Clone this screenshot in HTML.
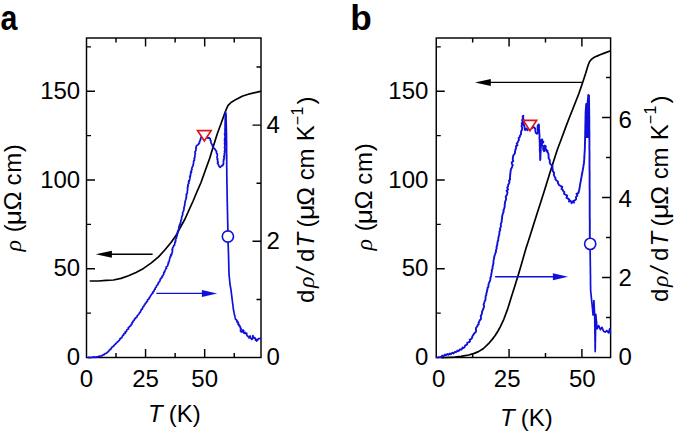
<!DOCTYPE html><html><head><meta charset="utf-8"><style>html,body{margin:0;padding:0;background:#fff;overflow:hidden;}svg{display:block;}text{font-family:"Liberation Sans",sans-serif;fill:#000;}</style></head><body>
<svg width="675" height="432" viewBox="0 0 675 432">
<rect width="675" height="432" fill="#fff"/>
<path d="M116.01,357.5V353.00M116.01,38.0V42.50M145.56,357.5V349.00M145.56,38.0V46.50M175.12,357.5V353.00M175.12,38.0V42.50M204.68,357.5V349.00M204.68,38.0V46.50M234.23,357.5V353.00M234.23,38.0V42.50M86.5,313.12H91.00M86.5,268.75H95.00M86.5,224.38H91.00M86.5,180.00H95.00M86.5,135.62H91.00M86.5,91.25H95.00M86.5,46.88H91.00M261.0,299.40H256.50M261.0,241.30H252.50M261.0,183.20H256.50M261.0,125.10H252.50M261.0,67.00H256.50" stroke="#000" stroke-width="1.45" fill="none"/>
<rect x="86.5" y="38.0" width="174.50" height="319.50" stroke="#000" stroke-width="1.45" fill="none"/>
<path d="M472.66,357.5V353.00M472.66,38.0V42.50M509.07,357.5V349.00M509.07,38.0V46.50M545.49,357.5V353.00M545.49,38.0V42.50M581.90,357.5V349.00M581.90,38.0V46.50M436.25,313.12H440.75M436.25,268.75H444.75M436.25,224.38H440.75M436.25,180.00H444.75M436.25,135.62H440.75M436.25,91.25H444.75M436.25,46.88H440.75M610.6,317.50H606.10M610.6,277.50H602.10M610.6,237.50H606.10M610.6,197.50H602.10M610.6,157.50H606.10M610.6,117.50H602.10M610.6,77.50H606.10" stroke="#000" stroke-width="1.45" fill="none"/>
<rect x="436.25" y="38.0" width="174.35" height="319.50" stroke="#000" stroke-width="1.45" fill="none"/>
<polyline points="90.4,281.0 98.5,281.0 106.0,280.4 113.5,280.0 121.0,278.4 128.5,275.8 136.0,272.4 143.5,268.4 151.0,263.1 158.5,256.9 164.8,250.0 171.0,242.5 176.0,235.6 180.0,228.0 185.0,219.0 188.8,210.5 193.1,201.0 196.0,194.0 201.0,182.5 206.0,168.5 209.8,158.0 212.2,150.0 217.2,134.0 221.0,123.8 224.1,115.0 226.0,110.0 227.9,105.6 231.0,102.5 236.0,99.4 242.2,96.2 249.8,93.8 260.3,91.3" fill="none" stroke="#000" stroke-width="1.7" stroke-linejoin="round" stroke-linecap="round"/>
<polyline points="88.0,357.6 88.6,357.4 89.2,357.6 89.8,357.4 90.4,357.6 91.0,357.5 91.6,357.5 92.2,357.1 92.8,357.0 93.5,357.5 94.1,357.0 94.7,356.9 95.4,357.4 96.0,357.0 96.6,356.9 97.3,357.0 97.9,356.6 98.5,356.6 99.1,356.1 99.8,356.3 100.4,356.4 101.0,356.0 101.6,355.7 102.2,355.6 102.7,355.3 103.1,354.6 103.9,354.8 104.4,354.4 104.8,353.9 105.3,353.5 106.0,353.5 106.6,353.2 106.9,352.6 107.5,352.2 108.0,351.9 108.4,351.3 108.9,351.0 109.1,350.3 109.8,350.0 110.1,349.4 110.8,349.2 111.0,348.5 111.6,348.2 111.7,347.4 112.2,347.0 112.7,346.5 113.5,346.5 113.7,345.7 114.2,345.4 114.5,344.8 115.1,344.4 115.5,343.9 116.0,343.5 116.3,343.0 116.9,342.6 117.3,342.1 117.9,341.8 118.2,341.3 118.7,340.9 119.1,340.4 119.6,340.0 119.8,339.4 119.9,338.6 120.8,338.6 121.0,337.9 121.7,337.7 122.1,337.2 122.2,336.5 122.7,336.1 122.7,335.3 123.5,335.2 123.7,334.5 123.9,333.9 124.2,333.3 125.1,333.3 125.6,332.8 125.3,331.9 126.0,331.6 126.6,331.3 126.6,330.6 126.8,329.9 127.3,329.5 128.0,329.3 128.4,328.9 128.2,327.9 128.9,327.7 128.9,327.0 129.7,326.8 129.8,326.1 130.6,325.9 131.0,325.5 131.0,324.8 131.4,324.2 132.1,324.0 131.9,323.1 132.1,322.5 132.9,322.2 132.8,321.4 133.3,321.0 133.8,320.6 134.3,320.1 134.3,319.4 134.6,318.8 135.6,318.7 135.5,317.9 136.0,317.5 136.7,317.3 137.1,316.7 137.1,315.9 137.5,315.5 138.0,315.0 138.5,314.6 138.8,314.0 139.2,313.5 139.5,313.0 139.8,312.5 140.4,312.1 140.4,311.4 140.7,310.9 141.2,310.5 141.2,309.7 141.6,309.3 142.4,309.1 142.4,308.3 142.8,307.8 142.7,307.0 143.4,306.7 143.8,306.2 144.1,305.8 144.1,305.0 144.8,304.8 145.2,304.3 145.1,303.5 145.8,303.3 146.1,302.7 146.6,302.3 146.6,301.7 147.2,301.4 147.6,300.9 147.4,300.0 147.8,299.5 148.5,299.3 148.8,298.8 149.4,298.5 149.2,297.6 149.7,297.2 150.2,296.8 150.3,296.2 150.6,295.7 150.9,295.2 151.3,294.7 151.8,294.3 151.9,293.7 152.3,293.2 153.0,292.9 152.7,292.0 153.5,291.8 153.8,291.2 154.2,290.8 154.2,290.1 154.5,289.5 155.2,289.2 155.1,288.4 155.4,287.8 155.9,287.4 156.4,287.0 156.3,286.2 156.7,285.7 157.1,285.2 157.8,284.8 157.8,284.1 158.4,283.8 158.2,282.9 158.8,282.5 158.9,281.9 159.5,281.5 160.0,281.1 160.0,280.3 160.1,279.7 160.3,279.1 160.9,278.8 161.0,278.1 161.8,277.8 162.1,277.3 161.9,276.5 162.3,276.0 163.0,275.7 163.1,275.0 163.5,274.5 163.9,274.0 163.7,273.2 163.8,272.6 164.2,272.1 164.9,271.7 164.7,270.9 165.0,270.4 165.3,269.9 165.6,269.3 165.8,268.7 166.5,268.4 166.1,267.5 166.2,266.9 166.9,266.5 167.5,266.1 167.7,265.4 168.0,264.9 167.8,264.1 168.4,263.7 168.6,263.1 168.3,262.3 168.9,261.9 169.2,261.3 169.3,260.6 169.4,260.0 169.6,259.4 169.6,258.8 169.9,258.2 170.0,257.6 170.0,257.0 170.7,256.6 170.6,256.0 171.3,255.5 170.8,254.8 171.7,254.4 171.6,253.8 171.9,253.2 172.2,252.6 172.3,251.9 172.5,251.3 172.3,250.6 172.0,249.9 172.7,249.4 172.4,248.7 172.6,248.1 172.9,247.5 173.3,246.9 173.5,246.3 173.8,245.6 174.5,245.2 174.5,244.4 174.8,243.8 174.8,243.1 174.8,242.4 175.5,242.0 175.3,241.2 175.8,240.7 175.5,240.0 175.6,239.3 176.0,238.8 176.4,238.2 176.0,237.4 176.7,236.9 176.6,236.2 177.1,235.8 177.2,235.2 177.4,234.6 176.8,233.8 177.5,233.4 177.9,232.9 177.4,232.1 177.7,231.6 177.9,231.0 178.3,230.5 178.4,229.9 178.6,229.3 178.8,228.8 179.2,228.2 178.7,227.4 178.9,226.8 179.2,226.2 179.4,225.5 179.5,224.9 180.5,224.5 180.5,223.8 180.1,223.0 180.6,222.5 180.8,221.9 180.8,221.2 180.9,220.6 181.1,220.0 181.5,219.4 181.6,218.8 181.6,218.1 181.6,217.4 181.9,216.8 181.9,216.2 182.4,215.6 182.5,215.0 182.8,214.4 182.7,213.7 182.5,213.0 182.8,212.4 183.1,211.9 183.4,211.3 183.7,210.7 183.5,210.0 184.0,209.4 184.0,208.8 183.9,208.1 184.0,207.5 184.3,206.9 184.4,206.2 184.7,205.7 184.6,205.0 184.9,204.4 184.8,203.7 184.8,203.1 185.2,202.5 185.4,201.9 185.0,201.2 185.4,200.6 185.6,200.0 185.7,199.4 186.2,198.8 186.3,198.2 186.0,197.5 186.5,196.9 186.6,196.3 186.2,195.6 186.5,195.0 186.3,194.3 187.1,193.8 187.0,193.2 187.4,192.6 187.4,191.9 187.2,191.2 187.5,190.6 187.7,190.0 187.6,189.4 187.3,188.7 187.8,188.1 187.4,187.4 187.7,186.8 188.3,186.3 187.8,185.6 187.9,184.9 188.0,184.3 188.5,183.8 189.0,183.2 188.5,182.4 188.5,181.8 189.3,181.3 188.8,180.6 189.6,180.1 189.6,179.4 189.9,178.8 190.1,178.2 189.9,177.5 190.3,176.9 189.7,176.2 190.5,175.7 190.4,175.0 190.6,174.4 190.9,173.8 190.5,173.0 191.2,172.6 191.6,172.0 190.9,171.2 191.3,170.6 191.7,170.0 192.1,169.4 191.7,168.7 191.8,168.1 192.2,167.5 192.2,166.8 192.8,166.3 193.1,165.7 193.0,165.0 193.2,164.3 193.5,163.8 193.5,163.1 193.6,162.5 193.7,161.9 193.5,161.2 194.0,160.6 194.5,160.1 194.2,159.4 194.6,158.8 194.1,158.1 194.7,157.5 194.9,156.9 194.8,156.2 195.0,155.6 194.9,155.0 195.0,154.4 195.2,153.8 195.5,153.2 194.9,152.5 195.0,151.8 195.4,151.2 195.8,150.7 196.0,150.1 195.8,149.4 195.9,148.7 196.3,148.2 195.9,147.4 196.1,146.8 196.2,146.2 196.6,145.6 197.3,145.3 197.8,144.7 198.5,144.4 198.5,143.7 199.2,143.2 199.6,142.7 199.3,141.8 199.8,141.2 200.1,140.7 200.1,140.0 200.7,139.5 200.7,138.8 200.6,138.1 201.0,137.5 201.5,136.9 202.1,136.3 203.0,136.2 203.8,136.6 204.5,137.0 205.2,136.8 206.0,136.9 206.8,137.1 207.3,137.6 207.9,138.1 208.4,137.7 209.1,137.5 209.3,138.3 210.2,138.6 210.4,139.4 210.1,140.1 210.8,140.6 210.8,141.3 211.1,141.9 211.0,142.6 211.1,143.2 211.6,143.8 211.8,144.3 212.2,144.8 212.2,145.4 212.4,146.0 213.0,146.4 213.0,147.1 213.5,147.5 213.6,148.3 214.3,148.5 214.8,148.9 215.2,149.4 215.4,150.0 215.9,150.8 216.6,151.2 216.5,151.9 216.4,152.6 216.5,153.2 217.2,153.7 217.3,154.3 217.3,155.0 217.4,155.6 217.2,156.2 217.1,156.9 217.0,157.5 217.1,158.2 217.7,158.7 217.2,159.4 217.7,160.0 217.7,160.6 217.5,161.3 218.1,161.8 218.2,162.5 217.5,163.2 217.9,163.8 218.4,164.3 218.6,164.9 218.7,165.7 219.1,166.2 219.4,166.8 220.3,166.8 220.4,167.5 220.7,166.8 221.2,166.2 221.6,165.6 222.2,165.6 222.9,165.6 222.8,164.9 223.2,164.4 223.7,163.8 223.3,163.1 223.5,162.5 223.6,161.9 223.3,161.2 223.5,160.6 223.9,160.0 223.5,159.3 224.3,158.8 224.4,158.2 224.1,157.5 223.8,156.8 224.6,156.3 224.1,155.6 224.6,155.0 224.6,154.4 224.2,153.7 224.6,153.1 224.7,152.5 224.9,151.9 224.4,151.2 224.9,150.6 224.8,150.0 225.2,149.4 224.9,148.8 224.8,148.2 224.4,147.6 224.8,147.0 224.7,146.3 225.0,145.7 225.0,145.1 224.9,144.5 224.5,143.9 225.0,143.3 225.0,142.7 224.6,142.1 225.2,141.5 225.0,140.9 224.5,140.2 225.3,139.6 224.6,139.0 224.8,138.4 225.1,137.8 225.0,137.2 225.0,136.6 225.1,136.0 224.9,135.4 224.8,134.8 224.7,134.1 224.6,133.5 225.2,132.9 225.2,132.3 225.0,131.7 225.0,131.1 225.0,130.5 225.0,129.9 225.0,129.3 225.0,128.7 225.1,128.0 225.1,127.4 225.1,126.8 225.1,126.2 225.1,125.6 225.1,125.0 225.1,124.4 225.1,123.8 225.1,123.1 225.2,122.5 225.2,121.9 225.2,121.3 225.2,120.7 225.2,120.0 225.2,119.4 225.2,118.8 225.3,118.2 225.3,117.6 225.3,117.0 225.3,116.3 225.3,115.7 225.3,115.1 225.3,114.5 225.4,113.9 225.4,113.2 225.4,112.6 225.4,112.0 225.6,112.6 225.8,113.2 226.0,113.8 226.0,114.4 226.0,115.0 226.0,115.6 226.1,116.2 226.1,116.8 226.1,117.4 226.1,118.0 226.1,118.6 226.1,119.2 226.1,119.8 226.2,120.4 226.2,121.0 226.2,121.6 226.2,122.2 226.2,122.9 226.2,123.5 226.2,124.1 226.3,124.7 226.3,125.3 226.3,125.9 226.3,126.5 226.3,127.1 226.3,127.7 226.3,128.3 226.4,128.9 226.4,129.5 226.4,130.1 226.4,130.8 226.4,131.4 226.4,132.0 226.4,132.6 226.5,133.2 226.5,133.8 226.5,134.4 226.5,135.0 226.5,135.6 226.5,136.2 226.5,136.8 226.5,137.4 226.5,138.0 226.5,138.6 226.5,139.2 226.5,139.8 226.5,140.5 226.5,141.1 226.6,141.7 226.6,142.3 226.6,142.9 226.6,143.5 226.6,144.1 226.6,144.7 226.6,145.3 226.6,145.9 226.6,146.5 226.6,147.1 226.6,147.7 226.6,148.3 226.6,148.9 226.6,149.5 226.6,150.2 226.6,150.8 226.6,151.4 226.6,152.0 226.6,152.6 226.6,153.2 226.6,153.8 226.6,154.4 226.7,155.0 226.7,155.6 226.7,156.2 226.7,156.8 226.7,157.4 226.7,158.0 226.7,158.6 226.7,159.2 226.7,159.8 226.7,160.5 226.7,161.1 226.7,161.7 226.7,162.3 226.7,162.9 226.7,163.5 226.7,164.1 226.7,164.7 226.7,165.3 226.7,165.9 226.7,166.5 226.7,167.1 226.7,167.7 226.8,168.3 226.8,168.9 226.8,169.5 226.8,170.2 226.8,170.8 226.8,171.4 226.8,172.0 226.8,172.6 226.8,173.2 226.8,173.8 226.8,174.4 226.8,175.0 226.8,175.6 226.8,176.2 226.8,176.8 226.8,177.4 226.9,178.0 226.9,178.6 226.9,179.2 226.9,179.8 226.9,180.4 226.9,181.0 226.9,181.6 226.9,182.2 226.9,182.9 226.9,183.5 227.0,184.1 227.0,184.7 227.0,185.3 227.0,185.9 227.0,186.5 227.0,187.1 227.0,187.7 227.0,188.3 227.0,188.9 227.1,189.5 227.1,190.1 227.1,190.7 227.1,191.3 227.1,191.9 227.1,192.5 227.1,193.1 227.1,193.7 227.1,194.3 227.1,194.9 227.2,195.5 227.2,196.1 227.2,196.8 227.2,197.4 227.2,198.0 227.2,198.6 227.2,199.2 227.2,199.8 227.2,200.4 227.2,201.0 227.3,201.6 227.3,202.2 227.3,202.8 227.3,203.4 227.3,204.0 227.3,204.6 227.3,205.2 227.3,205.8 227.4,206.4 227.4,207.0 227.4,207.7 227.4,208.3 227.4,208.9 227.4,209.5 227.4,210.1 227.5,210.7 227.5,211.3 227.5,211.9 227.5,212.5 227.5,213.1 227.5,213.7 227.5,214.4 227.6,215.0 227.6,215.6 227.6,216.2 227.6,216.8 227.6,217.4 227.6,218.0 227.6,218.6 227.6,219.2 227.7,219.8 227.7,220.5 227.7,221.1 227.7,221.7 227.7,222.3 227.7,222.9 227.7,223.5 227.8,224.1 227.8,224.7 227.8,225.3 227.8,225.9 227.8,226.5 227.8,227.2 227.8,227.8 227.9,228.4 227.9,229.0 227.9,229.6 227.9,230.2" fill="none" stroke="#1010da" stroke-width="1.7" stroke-linejoin="round" stroke-linecap="round"/>
<polyline points="228.1,242.9 228.1,243.5 228.1,244.1 228.2,244.8 228.2,245.4 228.2,246.0 228.2,246.6 228.3,247.2 228.3,247.8 228.3,248.4 228.3,249.1 228.3,249.7 228.4,250.3 228.4,250.9 228.4,251.5 228.4,252.2 228.5,252.8 228.5,253.4 228.5,254.0 228.5,254.6 228.5,255.2 228.5,255.8 228.6,256.4 228.6,257.0 228.6,257.6 228.6,258.2 228.6,258.8 228.6,259.5 228.7,260.1 228.7,260.7 228.7,261.3 228.7,261.9 228.7,262.5 228.7,263.1 228.7,263.7 228.8,264.3 228.8,264.9 228.8,265.5 228.8,266.1 228.8,266.7 228.8,267.3 228.8,267.9 228.9,268.5 228.9,269.2 228.9,269.8 228.9,270.4 228.9,271.0 228.9,271.6 229.0,272.2 229.0,272.8 229.0,273.4 229.0,274.0 229.1,274.6 229.1,275.2 229.2,275.9 229.2,276.5 229.3,277.1 229.4,277.8 229.4,278.4 229.5,279.0 229.6,279.6 229.6,280.2 229.7,280.9 229.8,281.5 229.8,282.1 229.9,282.8 229.9,283.4 230.0,284.0 230.1,284.6 230.2,285.2 230.3,285.8 230.4,286.4 230.5,287.0 230.6,287.6 230.7,288.2 230.8,288.8 230.9,289.4 231.0,290.0 231.1,290.6 231.2,291.2 231.2,291.9 231.3,292.5 231.4,293.1 231.5,293.8 231.5,294.4 231.6,295.0 231.7,295.6 231.8,296.2 231.9,296.9 231.9,297.5 232.0,298.1 232.1,298.8 232.2,299.4 232.2,300.0 232.3,300.6 232.4,301.2 232.5,301.9 232.6,302.5 232.6,303.1 232.7,303.8 232.8,304.4 232.9,305.0 233.0,305.6 233.0,306.2 233.1,306.9 233.2,307.5 233.3,308.1 233.3,308.8 233.4,309.4 233.5,310.0 233.6,310.6 233.8,311.2 233.9,311.9 234.0,312.5 234.2,313.1 234.3,313.8 234.4,314.4 234.6,315.0 234.7,315.6 234.9,316.2 235.0,316.9 235.1,317.5 235.3,318.1 235.4,318.8 235.7,319.4 236.4,319.8 237.0,320.3 236.8,321.2 237.5,321.6 237.2,322.5 238.3,322.4 238.3,323.3 238.1,324.4 239.1,324.4 238.8,325.2 239.0,325.8 240.1,326.1 239.8,326.9 240.4,327.4 240.8,328.0 240.4,328.8 241.3,329.1 241.4,329.8 240.4,330.9 240.8,331.5 241.6,331.9 242.5,331.6 242.9,330.9 242.9,330.0 243.7,330.4 243.7,331.1 243.4,331.9 243.5,332.6 244.1,333.1 245.0,333.4 245.4,332.5 245.2,333.5 246.8,333.4 246.6,334.4 246.9,335.1 247.2,335.8 247.9,336.2 248.3,336.9 249.2,337.2 249.1,338.1 249.5,337.5 249.4,336.4 250.4,336.2 249.9,337.2 250.3,337.7 251.0,338.2 251.7,338.6 251.6,339.4 252.5,339.0 252.2,338.2 252.9,337.7 253.1,337.1 252.7,336.2 252.9,335.6 253.3,336.2 253.3,336.9 253.9,337.4 254.1,338.1 255.0,337.9 255.4,338.8 256.0,339.2 255.5,340.2 257.0,340.3 256.6,341.2 256.4,340.2 257.7,340.1 257.9,339.4 258.3,338.7 259.1,338.8 259.8,338.5 260.4,338.1" fill="none" stroke="#1010da" stroke-width="1.7" stroke-linejoin="round" stroke-linecap="round"/>
<polyline points="441.5,357.6 447.0,357.5 454.8,357.1 461.0,356.3 468.5,355.0 473.5,353.6 478.5,351.6 483.5,348.5 488.5,343.7 492.0,339.6 495.0,335.8 498.0,331.0 500.5,326.3 503.8,319.3 507.5,309.4 511.2,297.6 515.0,285.6 518.1,275.5 521.0,265.7 524.0,255.2 526.0,248.3 528.8,239.8 532.5,228.0 536.2,216.3 540.0,204.5 545.0,188.7 550.0,172.6 554.0,160.0 557.2,150.0 562.0,137.3 566.0,126.4 570.0,116.0 573.5,107.2 578.8,93.8 582.5,83.0 585.6,73.5 588.1,65.2 589.5,61.8 591.5,59.3 593.8,57.6 597.0,56.1 600.0,54.8 605.0,52.9 610.0,51.0" fill="none" stroke="#000" stroke-width="1.7" stroke-linejoin="round" stroke-linecap="round"/>
<polyline points="437.0,357.6 439.0,357.2 441.0,357.0 442.3,355.6 443.5,356.2 445.0,354.6 446.0,355.3 447.5,354.0 448.5,354.8 450.0,353.5 451.0,354.2 452.5,352.7 453.5,353.4 455.0,351.8 456.0,352.2 457.5,350.6 458.5,351.2 460.0,349.2 461.0,349.8 462.0,348.8 462.5,347.5 463.5,348.0 464.7,347.1 465.0,345.6 466.0,345.2 467.2,344.2 467.3,342.6 468.5,342.4 470.0,341.4 469.8,339.6 471.0,339.1 472.0,338.0 472.3,336.5 473.5,334.6 474.8,332.7 476.0,331.7 476.0,330.1 475.9,328.1 477.2,326.5 477.6,325.2 478.7,324.2 478.5,322.7 479.3,321.6 479.7,320.2 480.9,319.2 481.0,317.6 480.7,315.9 481.6,314.5 482.0,313.0 482.1,311.4 482.9,310.0 483.4,308.7 483.8,307.4 484.1,306.0 483.6,304.4 484.2,303.0 484.5,301.6 485.4,300.2 485.5,298.8 485.6,297.3 485.7,295.9 486.4,294.7 486.3,293.3 486.9,292.1 486.9,290.7 487.5,289.5 487.5,287.9 488.5,286.6 488.4,285.0 488.8,283.5 489.4,282.0 490.1,280.6 490.4,279.1 490.4,277.5 491.2,276.1 491.2,274.5 491.5,273.0 491.9,271.5 491.8,270.0 492.6,268.6 492.5,267.0 492.9,265.5 493.3,264.1 493.5,262.5 493.4,261.0 493.8,259.5 494.1,257.8 494.4,256.1 495.0,254.5 495.3,253.2 496.0,252.0 495.9,250.7 496.3,249.4 496.7,248.2 496.5,246.8 497.2,245.6 497.2,244.3 497.5,243.0 497.6,241.5 498.3,240.2 498.3,238.7 498.5,237.3 498.8,235.9 499.3,234.5 499.4,233.0 499.4,231.5 500.3,230.2 499.9,228.7 500.6,227.3 501.0,225.9 500.7,224.4 501.2,223.0 501.7,221.6 501.7,220.1 502.1,218.7 502.0,217.2 502.3,215.8 502.6,214.4 503.1,213.0 503.7,211.7 503.4,210.2 504.1,209.0 504.5,207.6 504.8,206.3 504.6,204.8 505.0,203.5 505.0,202.1 505.5,200.8 506.1,199.4 506.0,198.0 505.7,196.5 506.8,195.2 507.2,193.8 507.5,192.3 506.6,190.7 508.1,189.5 507.2,187.8 508.0,186.5 508.1,185.0 508.8,183.7 509.5,182.3 509.0,180.7 510.1,179.5 509.9,177.9 510.1,176.5 510.1,175.0 510.4,173.5 510.5,172.0 510.7,170.6 511.0,169.1 511.8,167.8 512.2,166.4 512.8,165.1 511.8,163.7 511.8,162.3 513.3,161.1 512.8,159.7 512.8,158.3 513.1,157.0 513.2,155.5 514.2,154.3 515.0,153.0 515.0,151.5 515.4,150.1 515.7,148.8 516.2,147.5 516.0,146.1 517.5,145.2 516.7,143.6 517.7,142.5 518.1,141.2 519.0,140.0 518.6,138.2 519.8,137.0 520.0,135.5 521.0,134.3 521.0,132.7 521.2,131.2 522.1,129.5 522.1,127.5 521.5,126.1 522.1,124.7 521.7,123.3 522.9,122.0 522.1,120.6 522.4,119.2 523.3,117.9 522.6,116.5 523.4,115.8 522.9,117.1 522.8,118.5 523.6,119.7 523.6,121.1 523.3,122.4 523.8,123.7 523.8,125.0 524.5,126.6 524.7,128.3 525.0,130.0 526.3,128.6 527.5,130.2 529.0,128.5 530.5,127.2 532.0,128.2 533.1,126.9 534.4,127.5 535.3,129.0 535.4,130.8 535.6,132.5 536.9,133.8 537.9,132.4 538.0,130.9 537.7,129.4 537.7,127.9 537.6,126.4 538.1,125.0 538.8,124.4 539.0,125.7 539.0,127.0 538.9,128.4 539.0,129.7 539.3,131.0 539.2,132.4 539.3,133.7 539.5,135.0 539.5,136.3 539.5,137.6 539.5,139.0 539.7,140.3 539.6,141.6 539.8,142.9 539.8,144.2 539.7,145.5 539.8,146.8 540.0,148.2 539.7,149.5 539.9,150.8 539.9,152.1 540.2,153.4 540.0,154.7 540.2,156.0 540.1,157.4 540.2,158.7 540.2,160.0 540.4,158.7 540.4,157.3 540.5,156.0 540.4,154.7 540.6,153.3 540.7,152.0 540.8,150.7 540.6,149.3 540.9,148.0 540.9,146.7 540.9,145.3 541.1,144.0 541.2,142.7 541.0,141.3 541.1,140.0 542.2,139.4 542.3,140.8 543.4,142.0 541.9,143.5 541.9,144.9 543.1,146.1 543.2,147.5 543.2,149.5 544.1,151.2 544.8,149.9 545.0,148.5 543.8,146.9 544.8,145.6 545.8,146.2 545.4,148.0 546.1,149.6 546.6,151.2 547.5,150.6 547.4,152.2 548.4,153.5 548.5,155.0 548.6,156.7 548.7,158.5 549.8,160.0 549.7,161.6 549.9,163.1 550.7,164.5 552.3,165.3 552.5,166.7 552.4,168.2 552.8,169.5 552.7,171.2 554.1,172.7 553.8,174.5 554.6,176.8 555.5,177.8 555.4,179.3 556.5,180.4 557.8,181.4 558.0,183.3 559.0,185.0 560.3,185.8 562.3,186.9 561.5,189.0 562.6,189.6 563.2,191.0 564.4,192.1 564.0,193.8 565.2,194.5 567.2,195.6 566.5,197.8 567.7,198.4 569.4,199.6 569.0,201.6 570.2,200.8 571.4,201.7 571.5,203.2 572.8,201.2 574.0,202.6 573.7,200.9 575.2,200.2 576.2,199.2 575.9,197.1 577.4,195.6 576.5,193.8 578.4,193.0 578.8,191.4 579.3,189.8 579.5,188.2 579.8,186.7 580.0,185.1 580.3,183.5 580.6,181.8 580.9,180.2 581.2,178.5 581.5,177.1 581.7,175.7 582.0,174.2 582.3,172.8 582.5,171.4 582.8,170.0 583.0,168.5 583.3,167.0 583.5,165.5 583.8,164.0 584.0,162.5 584.1,161.1 584.2,159.7 584.3,158.3 584.4,156.9 584.4,155.6 584.5,154.2 584.6,152.8 584.7,151.4 584.8,150.0 584.8,148.7 584.9,147.3 584.9,146.0 584.9,144.7 585.0,143.3 585.0,142.0 585.0,140.7 585.1,139.3 585.1,138.0 585.1,136.7 585.2,135.3 585.2,134.0 585.2,132.7 585.2,131.3 585.3,130.0 585.3,128.6 585.3,127.3 585.4,125.9 585.4,124.6 585.4,123.2 585.4,121.9 585.5,120.6 585.5,119.2 585.5,117.9 585.5,116.5 585.6,115.2 585.6,113.8 585.6,112.5 585.7,111.1 585.8,109.7 585.9,108.2 586.0,106.8 586.1,105.4 586.2,104.0 587.6,103.2 587.7,101.8 587.8,100.5 588.0,99.1 588.1,97.7 588.2,96.4 588.3,95.0 589.0,95.5 589.0,96.9 589.0,98.2 589.0,99.6 589.1,100.9 589.1,102.3 589.1,103.7 589.1,105.0 589.1,106.4 589.1,107.8 589.2,109.1 589.2,110.5 589.2,111.8 589.2,113.2 589.2,114.6 589.2,115.9 589.3,117.3 589.3,118.6 589.3,120.0 589.3,121.3 589.3,122.7 589.3,124.0 589.3,125.3 589.3,126.7 589.3,128.0 589.3,129.3 589.4,130.7 589.4,132.0 589.4,133.3 589.4,134.7 589.4,136.0 589.4,137.3 589.4,138.7 589.4,140.0 589.4,141.3 589.4,142.7 589.4,144.0 589.4,145.3 589.4,146.7 589.4,148.0 589.4,149.3 589.5,150.7 589.5,152.0 589.5,153.3 589.5,154.7 589.5,156.0 589.5,157.3 589.5,158.7 589.5,160.0 589.5,161.3 589.5,162.7 589.5,164.0 589.5,165.3 589.5,166.7 589.5,168.0 589.5,169.3 589.6,170.7 589.6,172.0 589.6,173.3 589.6,174.7 589.6,176.0 589.6,177.3 589.6,178.7 589.6,180.0 589.6,181.3 589.6,182.7 589.6,184.0 589.6,185.3 589.6,186.7 589.6,188.0 589.6,189.3 589.7,190.7 589.7,192.0 589.7,193.3 589.7,194.7 589.7,196.0 589.7,197.3 589.7,198.7 589.7,200.0 589.7,201.3 589.7,202.7 589.7,204.0 589.7,205.4 589.7,206.7 589.7,208.1 589.7,209.4 589.7,210.7 589.7,212.1 589.7,213.4 589.7,214.8 589.7,216.1 589.7,217.5 589.8,218.8 589.8,220.1 589.8,221.5 589.8,222.8 589.8,224.2 589.8,225.5 589.8,226.9 589.8,228.2 589.8,229.5 589.8,230.9 589.8,232.2 589.8,233.6 589.8,234.9 589.8,236.3 589.8,237.6" fill="none" stroke="#1010da" stroke-width="1.9" stroke-linejoin="round" stroke-linecap="round"/>
<polyline points="590.1,250.2 590.1,250.8 590.1,251.4 590.1,252.0 590.1,252.6 590.1,253.2 590.2,253.8 590.2,254.4 590.2,255.0 590.2,255.6 590.2,256.2 590.2,256.8 590.2,257.4 590.2,258.0 590.2,258.6 590.2,259.2 590.2,259.8 590.3,260.4 590.3,261.0 590.3,261.6 590.3,262.2 590.3,262.8 590.3,263.4 590.3,264.0 590.3,264.6 590.3,265.2 590.3,265.8 590.3,266.4 590.4,267.0 590.4,267.6 590.4,268.2 590.4,268.8 590.4,269.4 590.4,270.0 590.4,270.6 590.4,271.2 590.4,271.8 590.4,272.4 590.4,273.0 590.4,273.6 590.4,274.2 590.4,274.8 590.5,275.5 590.5,276.1 590.5,276.7 590.5,277.3 590.5,277.9 590.5,278.5 590.5,279.1 590.5,279.7 590.5,280.3 590.5,280.9 590.5,281.5 590.5,282.1 590.5,282.7 590.5,283.3 590.5,283.9 590.5,284.5 590.6,285.2 590.6,285.8 590.6,286.4 590.6,287.0 590.6,287.6 590.6,288.2 590.6,288.8 590.6,289.4 590.6,290.0 590.7,290.6 590.7,291.2 590.8,291.8 590.8,292.5 590.9,293.1 591.0,293.7 591.0,294.3 591.1,294.9 591.2,295.5 591.2,296.2 591.3,296.8 591.3,297.4 591.4,298.0 591.5,298.6 591.5,299.3 591.6,299.9 591.7,300.5 591.7,301.2 591.8,301.8 591.9,302.4 591.9,303.0 592.0,303.7 592.1,304.3 592.1,304.9 592.2,305.6 592.2,306.2 592.3,306.8 592.4,307.5 592.4,308.1 592.5,308.7 592.6,309.4 592.6,310.0 592.7,310.6 592.7,311.3 592.8,311.9 592.9,312.6 592.9,313.2 593.0,313.8 593.0,314.5 593.1,315.1 593.1,314.5 593.2,313.9 593.2,313.3 593.2,312.7 593.3,312.1 593.3,311.5 593.3,310.8 593.4,310.2 593.4,309.6 593.4,309.0 593.5,308.4 593.5,307.8 593.5,307.2 593.6,306.6 593.6,306.0 593.6,305.4 593.7,304.8 593.7,304.1 593.7,303.5 593.8,302.9 593.8,302.3 593.8,301.7 593.9,301.1 593.9,300.5 593.9,301.1 594.0,301.7 594.0,302.3 594.0,303.0 594.1,303.6 594.1,304.2 594.1,304.8 594.2,305.4 594.2,306.0 594.2,306.7 594.3,307.3 594.3,307.9 594.3,308.5 594.3,309.1 594.4,309.7 594.4,310.4 594.4,311.0 594.5,311.6 594.5,312.2 594.5,312.8 594.6,313.4 594.6,314.1 594.6,314.7 594.7,315.3 594.7,315.9 594.7,316.5 594.7,317.1 594.7,317.7 594.7,318.3 594.7,318.9 594.8,319.5 594.8,320.1 594.8,320.7 594.8,321.3 594.8,322.0 594.8,322.6 594.8,323.2 594.8,323.8 594.8,324.4 594.8,325.0 594.8,325.6 594.8,326.2 594.9,326.8 594.9,327.4 594.9,328.0 594.9,328.6 594.9,329.2 594.9,329.8 594.9,330.4 594.9,331.0 594.9,331.6 594.9,332.2 594.9,332.8 594.9,333.4 595.0,334.1 595.0,334.7 595.0,335.3 595.0,335.9 595.0,336.5 595.0,337.1 595.0,337.7 595.0,338.3 595.0,338.9 595.0,339.5 595.0,340.1 595.0,340.7 595.1,341.3 595.1,341.9 595.1,342.5 595.1,343.1 595.1,343.7 595.1,344.3 595.1,344.9 595.1,345.5 595.1,346.2 595.1,346.8 595.1,347.4 595.1,348.0 595.2,348.6 595.2,349.2 595.2,349.8 595.2,350.4 595.2,351.0 595.2,351.6 595.2,351.0 595.2,350.4 595.2,349.8 595.2,349.2 595.2,348.6 595.3,348.0 595.3,347.4 595.3,346.8 595.3,346.2 595.3,345.6 595.3,345.0 595.3,344.4 595.3,343.8 595.3,343.2 595.3,342.6 595.4,342.0 595.4,341.4 595.4,340.8 595.4,340.2 595.4,339.6 595.4,339.0 595.4,338.4 595.4,337.8 595.4,337.2 595.4,336.6 595.5,336.0 595.5,335.4 595.5,334.8 595.5,334.2 595.5,333.6 595.5,333.0 595.5,332.3 595.5,331.7 595.5,331.1 595.5,330.5 595.5,329.9 595.6,329.3 595.6,328.7 595.6,328.1 595.6,327.5 595.6,326.9 595.6,326.3 595.6,325.7 595.6,325.1 595.6,324.5 595.6,323.9 595.7,323.3 595.7,322.7 595.7,322.1 595.7,321.5 595.7,320.9 595.7,320.3 595.7,319.7 595.7,319.1 595.7,318.5 595.7,317.9 595.8,317.3 595.8,316.7 595.8,316.1 595.8,315.5 595.8,314.9 595.8,314.3 595.9,314.9 595.9,315.5 596.0,316.1 596.0,316.7 596.1,317.3 596.1,317.9 596.2,318.6 596.2,319.2 596.3,319.8 596.3,320.4 596.4,321.0 596.5,321.6 596.5,322.2 596.6,322.8 596.6,323.4 596.7,324.0 596.7,324.6 596.8,325.2 596.8,325.9 596.9,326.5 596.9,327.1 597.0,327.7 597.0,328.3 597.1,328.9 597.4,328.3 597.7,327.6 598.1,327.0 598.4,326.3 598.7,325.7 598.9,326.3 599.2,326.8 599.4,327.4 599.7,328.0 599.9,328.6 600.2,329.1 600.4,329.7 600.8,329.1 601.2,328.5 601.6,327.9 602.0,327.3 602.2,327.9 602.5,328.4 602.7,329.0 602.9,329.6 603.1,330.2 603.4,330.7 603.6,331.3 604.4,331.7 605.2,332.1 605.7,331.6 606.3,331.0 606.8,330.5 607.2,331.1 607.6,331.7 608.1,332.3 608.5,332.9 608.7,332.2 608.9,331.6 609.0,330.9 609.2,330.2 609.4,329.6 609.6,328.9 609.7,329.6 609.9,330.3 610.0,330.9 610.1,331.6 610.3,332.3 610.4,333.0" fill="none" stroke="#1010da" stroke-width="1.7" stroke-linejoin="round" stroke-linecap="round"/>
<polygon points="585.3,138 585.6,112.5 586.2,104 587.6,103.2 588.3,95 589.1,95.5 589.5,120 589.6,138" fill="#1010da"/>
<circle cx="227.9" cy="236.5" r="5.6" fill="#fff" stroke="#1010da" stroke-width="1.6"/>
<circle cx="590.2" cy="243.9" r="5.6" fill="#fff" stroke="#1010da" stroke-width="1.6"/>
<polygon points="197.6,130.6 211.1,130.6 204.35,141" fill="#fff" stroke="#d9161e" stroke-width="1.7" stroke-linejoin="miter"/>
<polygon points="523.3,120.4 536.6,120.4 529.95,130.6" fill="#fff" stroke="#d9161e" stroke-width="1.7" stroke-linejoin="miter"/>
<line x1="110" y1="254.25" x2="152.6" y2="254.25" stroke="#000" stroke-width="1.3"/><path d="M95.7,254.25 L111.9,250.8 L111.9,257.7 Z" fill="#000"/>
<line x1="156.4" y1="293.45" x2="204" y2="293.45" stroke="#1010da" stroke-width="1.3"/><path d="M217.2,293.45 L201.9,289.95 L201.9,296.95 Z" fill="#1010da"/>
<line x1="490" y1="82.4" x2="582.8" y2="82.4" stroke="#000" stroke-width="1.3"/><path d="M475.0,82.4 L490.8,78.9 L490.8,85.9 Z" fill="#000"/>
<line x1="495.1" y1="276.75" x2="555" y2="276.75" stroke="#1010da" stroke-width="1.3"/><path d="M568.0,276.75 L552.9,273.35 L552.9,280.15 Z" fill="#1010da"/>
<text x="80.2" y="365.1" font-size="24" text-anchor="end" >0</text>
<text x="428.4" y="365.1" font-size="24" text-anchor="end" >0</text>
<text x="80.2" y="276.35" font-size="24" text-anchor="end" >50</text>
<text x="428.4" y="276.35" font-size="24" text-anchor="end" >50</text>
<text x="80.2" y="187.6" font-size="24" text-anchor="end" >100</text>
<text x="428.4" y="187.6" font-size="24" text-anchor="end" >100</text>
<text x="80.2" y="98.85" font-size="24" text-anchor="end" >150</text>
<text x="428.4" y="98.85" font-size="24" text-anchor="end" >150</text>
<text x="266.5" y="365.1" font-size="24" text-anchor="start" >0</text>
<text x="266.5" y="248.9" font-size="24" text-anchor="start" >2</text>
<text x="266.5" y="132.7" font-size="24" text-anchor="start" >4</text>
<text x="618.5" y="364.6" font-size="24" text-anchor="start" >0</text>
<text x="618.5" y="285.8" font-size="24" text-anchor="start" >2</text>
<text x="618.5" y="206.5" font-size="24" text-anchor="start" >4</text>
<text x="618.5" y="128.0" font-size="24" text-anchor="start" >6</text>
<text x="86.45" y="386.8" font-size="24" text-anchor="middle" >0</text>
<text x="145.56" y="386.8" font-size="24" text-anchor="middle" >25</text>
<text x="204.68" y="386.8" font-size="24" text-anchor="middle" >50</text>
<text x="438.6" y="386.8" font-size="24" text-anchor="middle" >0</text>
<text x="507.2" y="386.8" font-size="24" text-anchor="middle" >25</text>
<text x="582.3" y="386.8" font-size="24" text-anchor="middle" >50</text>
<text x="174.4" y="422.1" font-size="24" text-anchor="middle"><tspan font-style="italic">T</tspan><tspan dx="-0.4"> (K)</tspan></text>
<text x="526.4" y="426.4" font-size="24" text-anchor="middle"><tspan font-style="italic">T</tspan><tspan dx="-0.4"> (K)</tspan></text>
<text transform="translate(21.30,252.00) rotate(-90)" x="0.61" y="0" font-size="24" style="font-family:'Liberation Serif';font-style:italic">ρ</text><text transform="translate(21.30,230.70) rotate(-90)" x="-1.49" y="0" font-size="24" style="font-family:'Liberation Sans';font-style:normal">(</text><text transform="translate(21.30,223.40) rotate(-90) scale(1.1,1)" x="-1.62" y="0" font-size="24" style="font-family:'Liberation Sans';font-style:normal">μ</text><text transform="translate(21.30,209.40) rotate(-90) scale(1.06,1)" x="-1.02" y="0" font-size="24" style="font-family:'Liberation Sans';font-style:normal">Ω</text><text transform="translate(21.30,184.60) rotate(-90)" x="-1.02" y="0" font-size="24" style="font-family:'Liberation Sans';font-style:normal">c</text><text transform="translate(21.30,171.20) rotate(-90)" x="-1.59" y="0" font-size="24" style="font-family:'Liberation Sans';font-style:normal">m</text><text transform="translate(21.30,152.00) rotate(-90)" x="-0.14" y="0" font-size="24" style="font-family:'Liberation Sans';font-style:normal">)</text>
<text transform="translate(372.40,251.10) rotate(-90)" x="0.61" y="0" font-size="24" style="font-family:'Liberation Serif';font-style:italic">ρ</text><text transform="translate(372.40,229.80) rotate(-90)" x="-1.49" y="0" font-size="24" style="font-family:'Liberation Sans';font-style:normal">(</text><text transform="translate(372.40,222.50) rotate(-90) scale(1.1,1)" x="-1.62" y="0" font-size="24" style="font-family:'Liberation Sans';font-style:normal">μ</text><text transform="translate(372.40,208.50) rotate(-90) scale(1.06,1)" x="-1.02" y="0" font-size="24" style="font-family:'Liberation Sans';font-style:normal">Ω</text><text transform="translate(372.40,183.70) rotate(-90)" x="-1.02" y="0" font-size="24" style="font-family:'Liberation Sans';font-style:normal">c</text><text transform="translate(372.40,170.30) rotate(-90)" x="-1.59" y="0" font-size="24" style="font-family:'Liberation Sans';font-style:normal">m</text><text transform="translate(372.40,151.10) rotate(-90)" x="-0.14" y="0" font-size="24" style="font-family:'Liberation Sans';font-style:normal">)</text>
<text transform="translate(314.20,302.00) rotate(-90)" x="-1.01" y="0" font-size="24" style="font-family:'Liberation Sans';font-style:normal">d</text><text transform="translate(314.20,288.60) rotate(-90)" x="0.61" y="0" font-size="24" style="font-family:'Liberation Serif';font-style:italic">ρ</text><text transform="translate(314.20,275.90) rotate(-90)" x="1.36" y="0" font-size="24" style="font-family:'Liberation Sans';font-style:italic">/</text><text transform="translate(314.20,261.00) rotate(-90)" x="-1.01" y="0" font-size="24" style="font-family:'Liberation Sans';font-style:normal">d</text><text transform="translate(314.20,245.40) rotate(-90)" x="-2.16" y="0" font-size="24" style="font-family:'Liberation Sans';font-style:italic">T</text><text transform="translate(314.20,226.00) rotate(-90)" x="-1.49" y="0" font-size="24" style="font-family:'Liberation Sans';font-style:normal">(</text><text transform="translate(314.20,218.30) rotate(-90) scale(1.12,1)" x="-1.62" y="0" font-size="24" style="font-family:'Liberation Sans';font-style:normal">μ</text><text transform="translate(314.20,204.70) rotate(-90) scale(1.04,1)" x="-1.02" y="0" font-size="24" style="font-family:'Liberation Sans';font-style:normal">Ω</text><text transform="translate(314.20,179.30) rotate(-90)" x="-1.02" y="0" font-size="24" style="font-family:'Liberation Sans';font-style:normal">c</text><text transform="translate(314.20,167.00) rotate(-90)" x="-1.59" y="0" font-size="24" style="font-family:'Liberation Sans';font-style:normal">m</text><text transform="translate(314.20,139.40) rotate(-90)" x="-1.97" y="0" font-size="24" style="font-family:'Liberation Sans';font-style:normal">K</text><text transform="translate(302.70,124.40) rotate(-90)" x="-0.79" y="0" font-size="16" style="font-family:'Liberation Sans';font-style:normal">−</text><text transform="translate(302.70,114.40) rotate(-90)" x="-1.22" y="0" font-size="16" style="font-family:'Liberation Sans';font-style:normal">1</text><text transform="translate(314.20,104.40) rotate(-90)" x="-0.14" y="0" font-size="24" style="font-family:'Liberation Sans';font-style:normal">)</text>
<text transform="translate(667.60,301.00) rotate(-90)" x="-1.01" y="0" font-size="24" style="font-family:'Liberation Sans';font-style:normal">d</text><text transform="translate(667.60,287.60) rotate(-90)" x="0.61" y="0" font-size="24" style="font-family:'Liberation Serif';font-style:italic">ρ</text><text transform="translate(667.60,274.90) rotate(-90)" x="1.36" y="0" font-size="24" style="font-family:'Liberation Sans';font-style:italic">/</text><text transform="translate(667.60,260.00) rotate(-90)" x="-1.01" y="0" font-size="24" style="font-family:'Liberation Sans';font-style:normal">d</text><text transform="translate(667.60,244.40) rotate(-90)" x="-2.16" y="0" font-size="24" style="font-family:'Liberation Sans';font-style:italic">T</text><text transform="translate(667.60,225.00) rotate(-90)" x="-1.49" y="0" font-size="24" style="font-family:'Liberation Sans';font-style:normal">(</text><text transform="translate(667.60,217.30) rotate(-90) scale(1.12,1)" x="-1.62" y="0" font-size="24" style="font-family:'Liberation Sans';font-style:normal">μ</text><text transform="translate(667.60,203.70) rotate(-90) scale(1.04,1)" x="-1.02" y="0" font-size="24" style="font-family:'Liberation Sans';font-style:normal">Ω</text><text transform="translate(667.60,178.30) rotate(-90)" x="-1.02" y="0" font-size="24" style="font-family:'Liberation Sans';font-style:normal">c</text><text transform="translate(667.60,166.00) rotate(-90)" x="-1.59" y="0" font-size="24" style="font-family:'Liberation Sans';font-style:normal">m</text><text transform="translate(667.60,138.40) rotate(-90)" x="-1.97" y="0" font-size="24" style="font-family:'Liberation Sans';font-style:normal">K</text><text transform="translate(656.10,123.40) rotate(-90)" x="-0.79" y="0" font-size="16" style="font-family:'Liberation Sans';font-style:normal">−</text><text transform="translate(656.10,113.40) rotate(-90)" x="-1.22" y="0" font-size="16" style="font-family:'Liberation Sans';font-style:normal">1</text><text transform="translate(667.60,103.40) rotate(-90)" x="-0.14" y="0" font-size="24" style="font-family:'Liberation Sans';font-style:normal">)</text>
<text transform="scale(0.869,1)" x="0.44" y="29.8" font-size="35" font-weight="bold">a</text>
<text transform="scale(1.03,1)" x="340.07" y="30" font-size="34.2" font-weight="bold">b</text>
</svg></body></html>
